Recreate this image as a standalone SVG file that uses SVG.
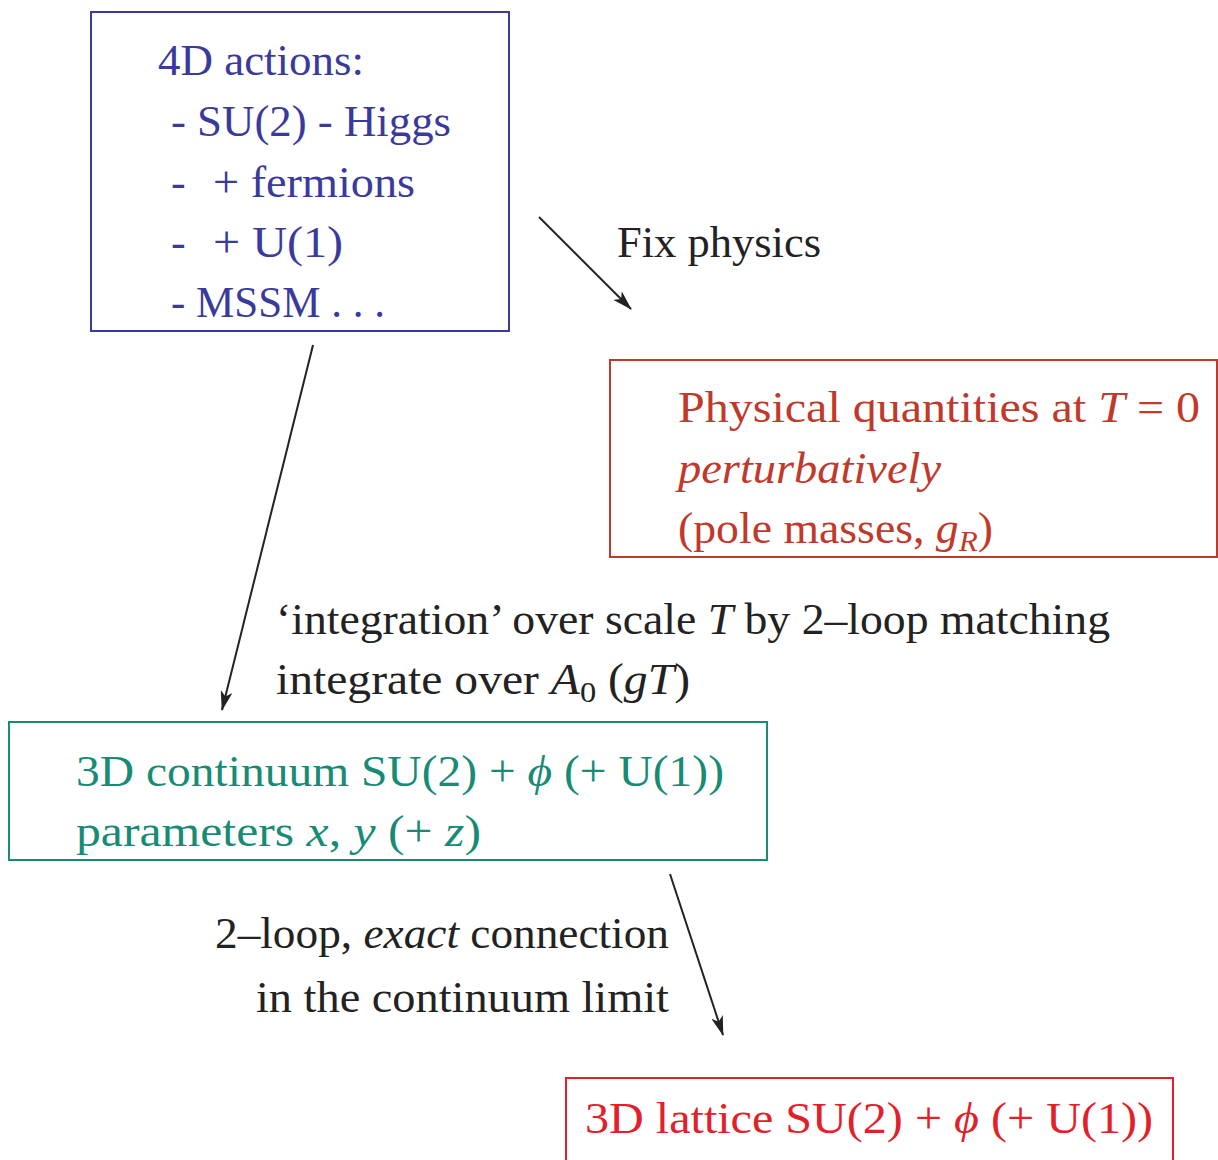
<svg xmlns="http://www.w3.org/2000/svg" width="1218" height="1160" viewBox="0 0 1218 1160">
<defs>
<marker id="ah" viewBox="0 0 20 12" refX="19" refY="6" markerWidth="20" markerHeight="12" markerUnits="userSpaceOnUse" orient="auto">
<path d="M0,0 L20,6 L0,12 L5,6 Z" fill="#222"/>
</marker>
</defs>
<style>
text{font-family:"Liberation Serif","DejaVu Serif",serif;font-size:44px}
.i{font-style:italic}
.blue{fill:#3a3a9c}
.red{fill:#c0392b}
.teal{fill:#178b74}
.bred{fill:#e3202a}
.blk{fill:#222}
.box{fill:none;stroke-width:2}
.conn{stroke:#222;stroke-width:2;fill:none;marker-end:url(#ah)}
</style>
<rect width="1218" height="1160" fill="#fff"/>
<g id="n4d">
<rect class="box" x="91" y="12" width="418" height="319" stroke="#3a3a9c"/>
<text class="blue" x="158" y="75" textLength="206" lengthAdjust="spacingAndGlyphs">4D actions:</text>
<text class="blue" x="171" y="136" textLength="280" lengthAdjust="spacingAndGlyphs">- SU(2) - Higgs</text>
<text class="blue" x="171" y="197">-</text>
<text class="blue" x="213" y="197" textLength="202" lengthAdjust="spacingAndGlyphs">+ fermions</text>
<text class="blue" x="171" y="257">-</text>
<text class="blue" x="213" y="257" textLength="130" lengthAdjust="spacingAndGlyphs">+ U(1)</text>
<text class="blue" x="171" y="317" textLength="214" lengthAdjust="spacingAndGlyphs">- MSSM . . .</text>
</g>
<g id="nphys">
<rect class="box" x="610" y="360" width="607" height="197" stroke="#c0392b"/>
<text class="red" x="678" y="422" textLength="522" lengthAdjust="spacingAndGlyphs">Physical quantities at <tspan class="i">T</tspan> = 0</text>
<text class="red i" x="678" y="483" textLength="263" lengthAdjust="spacingAndGlyphs">perturbatively</text>
<text class="red" x="678" y="543" textLength="315" lengthAdjust="spacingAndGlyphs">(pole masses, <tspan class="i">g</tspan><tspan class="i" font-size="30" dy="8">R</tspan><tspan dy="-8">)</tspan></text>
</g>
<g id="ncont">
<rect class="box" x="9" y="722" width="758" height="138" stroke="#178b74"/>
<text class="teal" x="76" y="786" textLength="648" lengthAdjust="spacingAndGlyphs">3D continuum SU(2) + <tspan class="i">ϕ</tspan> (+ U(1))</text>
<text class="teal" x="76" y="846" textLength="405" lengthAdjust="spacingAndGlyphs">parameters <tspan class="i">x</tspan>, <tspan class="i">y</tspan> (+ <tspan class="i">z</tspan>)</text>
</g>
<g id="nlat">
<rect class="box" x="566" y="1078" width="607" height="90" stroke="#e3202a"/>
<text class="bred" x="585" y="1133" textLength="568" lengthAdjust="spacingAndGlyphs">3D lattice SU(2) + <tspan class="i">ϕ</tspan> (+ U(1))</text>
</g>
<g id="connectors">
<line class="conn" x1="539" y1="217" x2="631" y2="309"/>
<line class="conn" x1="313" y1="345" x2="222" y2="710"/>
<line class="conn" x1="670" y1="874" x2="723" y2="1035"/>
</g>
<g id="labels">
<text class="blk" x="617" y="257" textLength="204" lengthAdjust="spacingAndGlyphs">Fix physics</text>
<text class="blk" x="276" y="634" textLength="834" lengthAdjust="spacingAndGlyphs">‘integration’ over scale <tspan class="i">T</tspan> by 2–loop matching</text>
<text class="blk" x="276" y="694" textLength="414" lengthAdjust="spacingAndGlyphs">integrate over <tspan class="i">A</tspan><tspan font-size="30" dy="8">0</tspan><tspan dy="-8"> (</tspan><tspan class="i">gT</tspan>)</text>
<text class="blk" x="215" y="948" textLength="454" lengthAdjust="spacingAndGlyphs">2–loop, <tspan class="i">exact</tspan> connection</text>
<text class="blk" x="256" y="1012" textLength="413" lengthAdjust="spacingAndGlyphs">in the continuum limit</text>
</g>
</svg>
